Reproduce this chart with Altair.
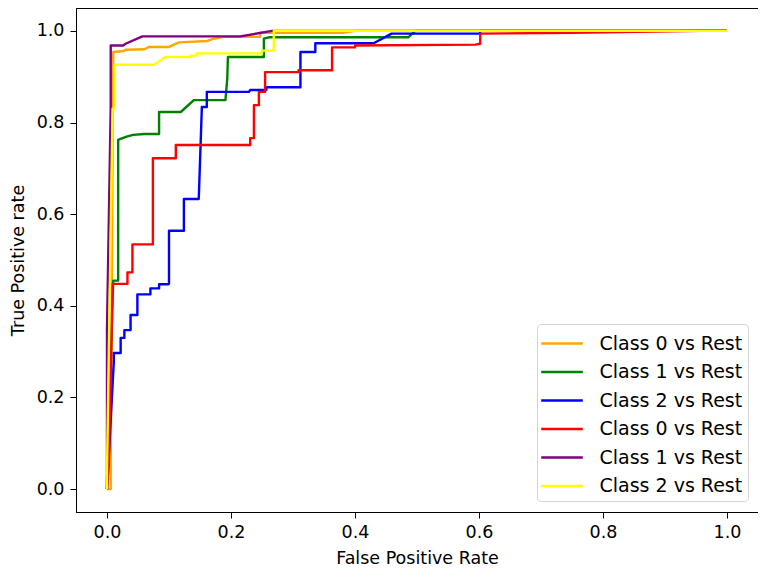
import altair as alt
import pandas as pd

# ---- data ----
series_names = ["Class 0 vs Rest", "Class 1 vs Rest", "Class 2 vs Rest",
                "Class 0 vs Rest", "Class 1 vs Rest", "Class 2 vs Rest"]
colors = ["orange", "green", "blue", "red", "purple", "yellow"]

fpr_a0 = [0.0, 0.006, 0.006, 0.010, 0.027, 0.030, 0.060, 0.068, 0.100, 0.116, 0.162, 0.172, 0.188, 0.247, 0.247, 0.380, 0.400, 1.0]
tpr_a0 = [0.0, 0.0, 0.06, 0.954, 0.956, 0.959, 0.960, 0.965, 0.965, 0.975, 0.978, 0.983, 0.987, 0.987, 0.996, 0.996, 1.0, 1.0]

fpr_a1 = [0.0, 0.0, 0.010, 0.018, 0.018, 0.025, 0.033, 0.042, 0.060, 0.084, 0.084, 0.119, 0.140, 0.191, 0.194, 0.195, 0.253, 0.253, 0.261, 0.486, 0.497, 1.0]
tpr_a1 = [0.0, 0.02, 0.455, 0.455, 0.762, 0.766, 0.770, 0.773, 0.775, 0.775, 0.823, 0.823, 0.849, 0.849, 0.896, 0.943, 0.943, 0.983, 0.986, 0.986, 1.0, 1.0]

fpr_a2 = [0.0, 0.011, 0.011, 0.022, 0.022, 0.028, 0.028, 0.038, 0.038, 0.049,
          0.049, 0.070, 0.070, 0.084, 0.084, 0.098, 0.100, 0.100, 0.124, 0.124,
          0.148, 0.153, 0.161, 0.161, 0.229, 0.231, 0.257, 0.257, 0.312, 0.312,
          0.336, 0.336, 0.430, 0.459, 0.602, 0.602, 1.0]
tpr_a2 = [0.0, 0.278, 0.297, 0.297, 0.330, 0.330, 0.347, 0.347, 0.380, 0.380,
          0.425, 0.425, 0.438, 0.438, 0.447, 0.447, 0.448, 0.564, 0.564, 0.633,
          0.633, 0.834, 0.834, 0.867, 0.867, 0.871, 0.871, 0.877, 0.877, 0.954,
          0.954, 0.973, 0.973, 0.994, 0.994, 1.0, 1.0]

fpr_b0 = [0.0, 0.003, 0.009, 0.009, 0.033, 0.033, 0.041, 0.041, 0.074, 0.074,
          0.111, 0.111, 0.231, 0.231, 0.237, 0.237, 0.245, 0.245, 0.255, 0.255,
          0.309, 0.309, 0.363, 0.363, 0.400, 0.400, 0.594, 0.602, 0.602, 0.75,
          0.96, 1.0]
tpr_b0 = [0.0, 0.06, 0.445, 0.448, 0.448, 0.473, 0.473, 0.534, 0.534, 0.722,
          0.722, 0.751, 0.751, 0.766, 0.766, 0.838, 0.838, 0.867, 0.867, 0.910,
          0.910, 0.914, 0.914, 0.964, 0.964, 0.968, 0.970, 0.972, 0.994, 0.996,
          1.0, 1.0]

fpr_b1 = [0.0, 0.0, 0.006, 0.006, 0.026, 0.030, 0.057, 0.215, 0.266, 1.0]
tpr_b1 = [0.0, 0.35, 0.834, 0.968, 0.968, 0.972, 0.988, 0.988, 1.0, 1.0]

fpr_b2 = [0.0, 0.0, 0.009, 0.012, 0.012, 0.076, 0.094, 0.135, 0.135, 0.145, 0.145, 0.250, 0.250, 0.269, 0.269, 1.0]
tpr_b2 = [0.0, 0.04, 0.83, 0.83, 0.926, 0.926, 0.943, 0.943, 0.946, 0.946, 0.951, 0.951, 0.957, 0.957, 1.0, 1.0]

tick_values = [0.0, 0.2, 0.4, 0.6, 0.8, 1.0]

all_fpr = [fpr_a0, fpr_a1, fpr_a2, fpr_b0, fpr_b1, fpr_b2]
all_tpr = [tpr_a0, tpr_a1, tpr_a2, tpr_b0, tpr_b1, tpr_b2]
keys = [f"{n}|{i}" for i, n in enumerate(series_names)]

rows = []
for k, fx, ty in zip(keys, all_fpr, all_tpr):
    for j, (a, b) in enumerate(zip(fx, ty)):
        rows.append({"key": k, "idx": j, "fpr": a, "tpr": b})
df = pd.DataFrame(rows)

FONT = "DejaVu Sans"
FS = 17.5

xaxis = alt.Axis(values=tick_values, format=".1f", grid=False, tickSize=6,
                 labelPadding=5, titlePadding=9, labelFlush=False, labelOverlap=False)
yaxis = alt.Axis(values=tick_values, format=".1f", grid=False, tickSize=6,
                 labelPadding=6, titlePadding=9, labelFlush=False, labelOverlap=False)

legend = alt.Legend(
    title=None, orient="none", legendX=461, legendY=316,
    labelExpr="split(datum.value, '|')[0]",
    symbolType="M-1.6,0H1.6", symbolSize=676, symbolStrokeWidth=2.4,
    symbolOffset=5.5, labelOffset=23, labelFontSize=19, labelFont=FONT,
    labelColor="black", rowPadding=3.5, padding=5, labelLimit=400,
    strokeColor="#d5d5d5", fillColor="white", cornerRadius=4,
)

layers = []
for k in keys:
    layers.append(
        alt.Chart(df).transform_filter(alt.datum.key == k)
        .mark_line(strokeWidth=2.4, strokeJoin="round")
        .encode(
            x=alt.X("fpr:Q", title="False Positive Rate",
                    scale=alt.Scale(domain=[-0.05, 1.05], nice=False, zero=False),
                    axis=xaxis),
            y=alt.Y("tpr:Q", title="True Positive rate",
                    scale=alt.Scale(domain=[-0.05, 1.05], nice=False, zero=False),
                    axis=yaxis),
            color=alt.Color("key:N", scale=alt.Scale(domain=keys, range=colors),
                            legend=legend),
            order=alt.Order("idx:Q"),
        )
    )

chart = (
    alt.layer(*layers)
    .properties(width=682, height=504,
                autosize=alt.AutoSizeParams(type="none"),
                padding={"left": 68, "top": 0, "right": 0, "bottom": 58})
    .configure_axis(labelFont=FONT, titleFont=FONT, labelFontSize=FS,
                    titleFontSize=FS, titleFontWeight="normal",
                    labelColor="black", titleColor="black",
                    domainColor="black", tickColor="black")
    .configure_view(stroke="black", strokeWidth=1)
)

chart.save("out.html", embed_options={"renderer": "svg", "actions": False})
